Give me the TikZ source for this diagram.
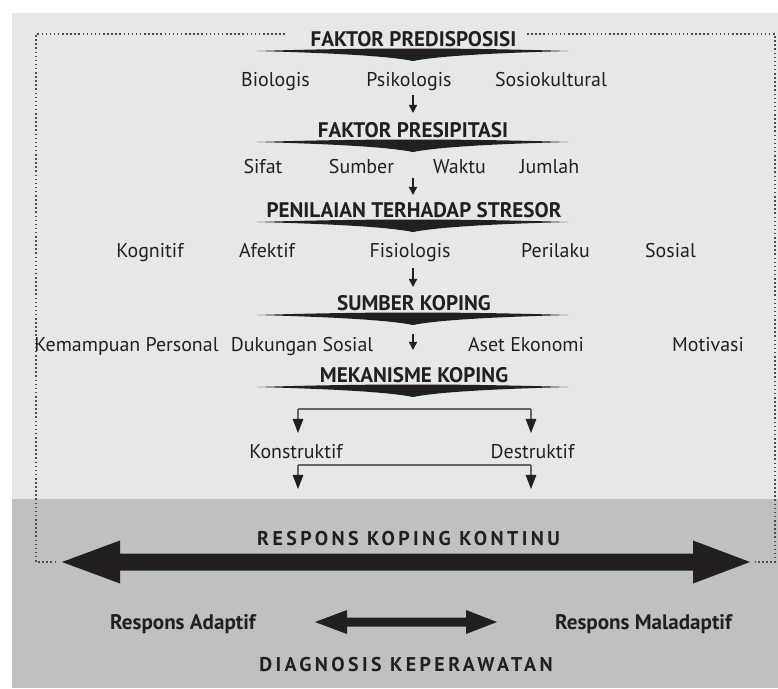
\documentclass[tikz,border=0pt]{standalone}
\usepackage{fontspec}
\setmainfont{PT Sans}
\usetikzlibrary{arrows.meta}
\definecolor{bglight}{HTML}{E6E7E8}
\definecolor{bgdark}{HTML}{BFC0C2}
\definecolor{ink}{HTML}{231F20}
\tikzset{
  head/.style={font=\fontsize{18}{20}\selectfont\bfseries, text=ink, anchor=base, inner sep=0pt},
  item/.style={font=\fontsize{17}{19}\selectfont, text=ink, anchor=base, inner sep=0pt},
  wide/.style={font=\fontsize{17}{19}\selectfont\bfseries\addfontfeatures{LetterSpace=17}, text=ink, anchor=base, inner sep=0pt},
  down/.style={-{Triangle[width=7pt,length=7pt]}, line width=1.2pt, draw=ink},
  fork/.style={draw=black!60, line width=0.9pt},
  forkarr/.style={fork, -{Triangle[width=9pt,length=12pt,color=ink]}},
  frame/.style={draw=black!70, line width=1.3pt, dash pattern=on 1.3pt off 2.2pt},
}
\begin{document}
\begin{tikzpicture}[x=0.03cm,y=-0.03cm]
\useasboundingbox (0,0) rectangle (778,688);
\fill[bglight] (12,13) rectangle (778,499);
\fill[bgdark] (12,499) rectangle (778,688);
\draw[frame] (285,34) -- (36,34) -- (36,562) -- (56,562);
\draw[frame] (527,34) -- (775,34) -- (775,562) -- (755,562);
% wedges under the headings
\foreach \t in {51,142,222,315,387}
  \fill[ink,shift={(413,\t)}] (-156,0) .. controls (-90,-2) and (-40,-2.5) .. (0,-2.5)
    .. controls (40,-2.5) and (90,-2) .. (155,0)
    .. controls (80,2) and (25,5) .. (0,10)
    .. controls (-25,5) and (-80,2) .. (-156,0) -- cycle;
\node[head] (pre) at (413.5,46) {FAKTOR PREDISPOSISI};
\node[item] (bio) at (275.5,86) {Biologis};
\node[item] (psi) at (409,86) {Psikologis};
\node[item] (sos) at (551,86) {Sosiokultural};
\node[head] (pres) at (413,137) {FAKTOR PRESIPITASI};
\node[item] (sif) at (263,173) {Sifat};
\node[item] (sum) at (361.5,173) {Sumber};
\node[item] (wak) at (459.5,173) {Waktu};
\node[item] (jum) at (549.5,173) {Jumlah};
\node[head] (pen) at (414,217) {PENILAIAN TERHADAP STRESOR};
\node[item] (kog) at (150,257) {Kognitif};
\node[item] (afe) at (267,257) {Afektif};
\node[item] (fis) at (410,257) {Fisiologis};
\node[item] (per) at (555.5,257) {Perilaku};
\node[item] (sol) at (670.5,257) {Sosial};
\node[head] (skop) at (414,310) {SUMBER KOPING};
\node[item] (kem) at (126.5,351) {Kemampuan Personal};
\node[item] (duk) at (302,351) {Dukungan Sosial};
\node[item] (ase) at (526,351) {Aset Ekonomi};
\node[item] (mot) at (708,351) {Motivasi};
\node[head] (mek) at (414,382) {MEKANISME KOPING};
\node[item] (kon) at (296,458) {Konstruktif};
\node[item] (des) at (532.5,458) {Destruktif};
% small arrows down the middle
\coordinate (a1) at (413,95);  \coordinate (b1) at (413,113);
\coordinate (a2) at (413,178); \coordinate (b2) at (413,195);
\coordinate (a3) at (413,268); \coordinate (b3) at (413,287);
\coordinate (a4) at (413,334); \coordinate (b4) at (413,350);
\foreach \i in {1,...,4}
  \draw[down] (a\i) -- (b\i);
% forks
\coordinate (f1l) at (298,409); \coordinate (f1r) at (531,409);
\coordinate (t1l) at (298,433); \coordinate (t1r) at (531,433);
\coordinate (f2l) at (298,465); \coordinate (f2r) at (531,465);
\coordinate (t2l) at (298,489); \coordinate (t2r) at (531,489);
\draw[fork] (f1l) -- (f1r);
\draw[forkarr] (f1l) -- (t1l);
\draw[forkarr] (f1r) -- (t1r);
\draw[fork] (f2l) -- (f2r);
\draw[forkarr] (f2l) -- (t2l);
\draw[forkarr] (f2r) -- (t2r);
% continuum
\node[wide] (rkk) at (408.5,545) {RESPONS KOPING KONTINU};
\fill[ink] (62,562) -- (120,540.5) -- (120,553.5) -- (693,553.5) -- (693,540.5)
  -- (750,562) -- (693,583.5) -- (693,570.5) -- (120,570.5) -- (120,583.5) -- cycle;
\node[head] (ada) at (183,629) {Respons Adaptif};
\node[head] (mal) at (643.5,629) {Respons Maladaptif};
\fill[ink] (315,622) -- (347,610) -- (347,617.5) -- (466,617.5) -- (466,610)
  -- (497,622) -- (466,634) -- (466,626.5) -- (347,626.5) -- (347,634) -- cycle;
\node[wide] (dia) at (406,671) {DIAGNOSIS KEPERAWATAN};
\end{tikzpicture}
\end{document}
